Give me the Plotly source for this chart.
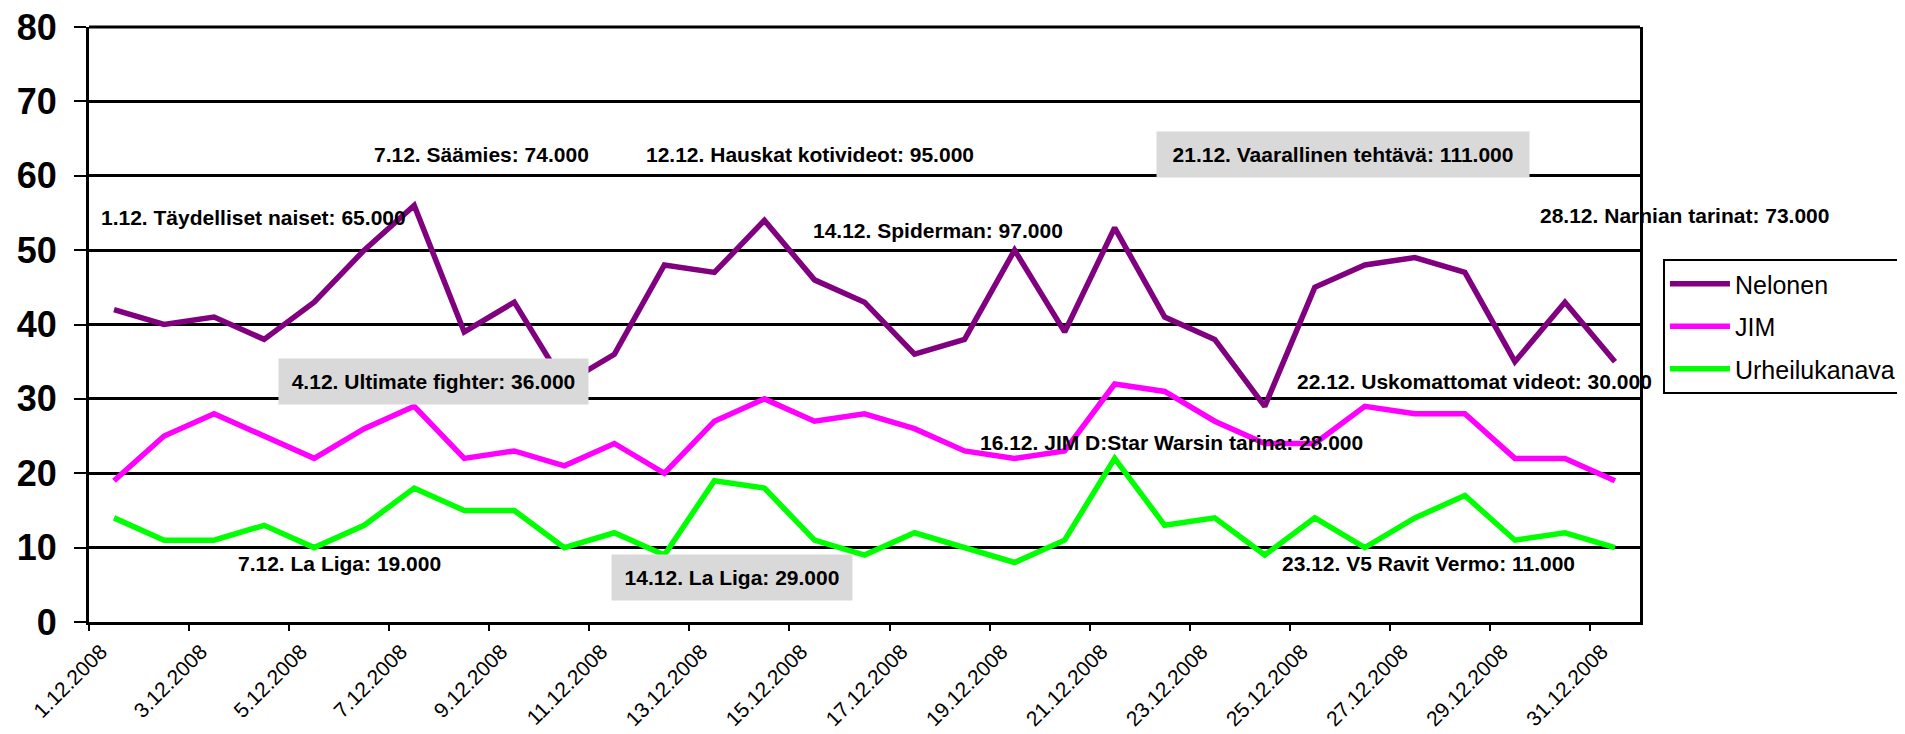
import plotly.graph_objects as go

# ---- data ----
dates = [f"{d}.12.2008" for d in range(1, 32)]
nelonen = [42, 40, 41, 38, 43, 50, 56, 39, 43, 32, 36, 48, 47, 54, 46, 43,
           36, 38, 50, 39, 53, 41, 38, 29, 45, 48, 49, 47, 35, 43, 35]
jim = [19, 25, 28, 25, 22, 26, 29, 22, 23, 21, 24, 20, 27, 30, 27, 28,
       26, 23, 22, 23, 32, 31, 27, 24, 24, 29, 28, 28, 22, 22, 19]
urheilu = [14, 11, 11, 13, 10, 13, 18, 15, 15, 10, 12, 9, 19, 18, 11, 9,
           12, 10, 8, 11, 22, 13, 14, 9, 14, 10, 14, 17, 11, 12, 10]
series_names = ["Nelonen", "JIM", "Urheilukanava"]
series_colors = ["#800080", "#FF00FF", "#00FF00"]
tick_labels = dates[0::2]
y_ticks = [0, 10, 20, 30, 40, 50, 60, 70, 80]

# annotations: text, x (day position), y (value), grey box?
notes_text = [
    "1.12. Täydelliset naiset: 65.000",
    "7.12. Säämies: 74.000",
    "12.12. Hauskat kotivideot: 95.000",
    "21.12. Vaarallinen tehtävä: 111.000",
    "28.12. Narnian tarinat: 73.000",
    "14.12. Spiderman: 97.000",
    "4.12. Ultimate fighter: 36.000",
    "7.12. La Liga: 19.000",
    "14.12. La Liga: 29.000",
    "16.12. JIM D:Star Warsin tarina: 28.000",
    "22.12. Uskomattomat videot: 30.000",
    "23.12. V5 Ravit Vermo: 11.000",
]
notes_x = [0.72, 6.18, 11.62, 21.82, 29.48, 14.96, 4.28, 3.46, 10.94, 18.28, 24.62, 24.32]
notes_y = [54.4, 62.8, 62.8, 62.8, 54.6, 52.7, 32.3, 7.8, 6.0, 24.2, 32.3, 7.8]
notes_box = [False, False, False, True, False, False, True, False, True, False, False, False]
box_w = {3: 372, 6: 309, 8: 240}

FONT = "Liberation Sans, Arial, sans-serif"
xpos = list(range(1, len(dates) + 1))

fig = go.Figure()
for name, vals, col in zip(series_names, [nelonen, jim, urheilu], series_colors):
    fig.add_trace(go.Scatter(
        x=xpos, y=vals, mode="lines", name=name, legendgroup=name,
        line=dict(color=col, width=5.5), hoverinfo="skip",
        customdata=dates,
    ))

for i, (t, xx, yy, bx) in enumerate(zip(notes_text, notes_x, notes_y, notes_box)):
    a = dict(
        text="<b>" + t + "</b>", x=xx, y=yy, xref="x", yref="y",
        xanchor="left", yanchor="middle", showarrow=False, borderpad=0,
        font=dict(family=FONT, size=21, color="black"),
    )
    if bx:
        a.update(bgcolor="#D9D9D9", width=box_w[i], height=45,
                 align="center", valign="middle")
    fig.add_annotation(**a)

# top frame line of the plot area
fig.add_shape(type="line", xref="paper", yref="paper", x0=0, x1=1, y0=1, y1=1,
              line=dict(color="black", width=3), layer="above")

# page body has an 8px margin: figure shrunk / margins shifted accordingly
fig.update_layout(
    width=1889, height=726,
    margin=dict(l=81, r=257, t=19, b=112, autoexpand=False),
    paper_bgcolor="white", plot_bgcolor="white",
    font=dict(family=FONT, color="black"),
    showlegend=True,
    legend=dict(
        x=1.0148, y=0.61, xanchor="left", yanchor="top",
        bordercolor="black", borderwidth=2, bgcolor="white",
        font=dict(family=FONT, size=25, color="black"),
        itemwidth=60, tracegroupgap=7,
    ),
)
fig.update_xaxes(
    range=[0.5, 31.5], tickmode="array",
    tickvals=[i + 0.5 for i in range(0, len(dates), 2)],
    ticktext=tick_labels, tickangle=-45,
    tickfont=dict(family=FONT, size=21, color="black"),
    ticks="outside", ticklen=6, tickwidth=2, tickcolor="black",
    showline=True, linecolor="black", linewidth=3, mirror=False,
    showgrid=False, zeroline=False, ticklabelshift=12,
    automargin=False, ticklabeloverflow="allow",
)
fig.update_yaxes(
    range=[0, 80], tickmode="array", tickvals=y_ticks,
    tickfont=dict(family=FONT, size=36, color="black", weight="bold"),
    ticks="outside", ticklen=12, tickwidth=2, tickcolor="black",
    showline=True, linecolor="black", linewidth=3, mirror=True,
    showgrid=True, gridcolor="black", gridwidth=2.5, zeroline=False,
    ticklabelstandoff=10, automargin=False, ticklabeloverflow="allow",
)

fig.write_html("out.html")
